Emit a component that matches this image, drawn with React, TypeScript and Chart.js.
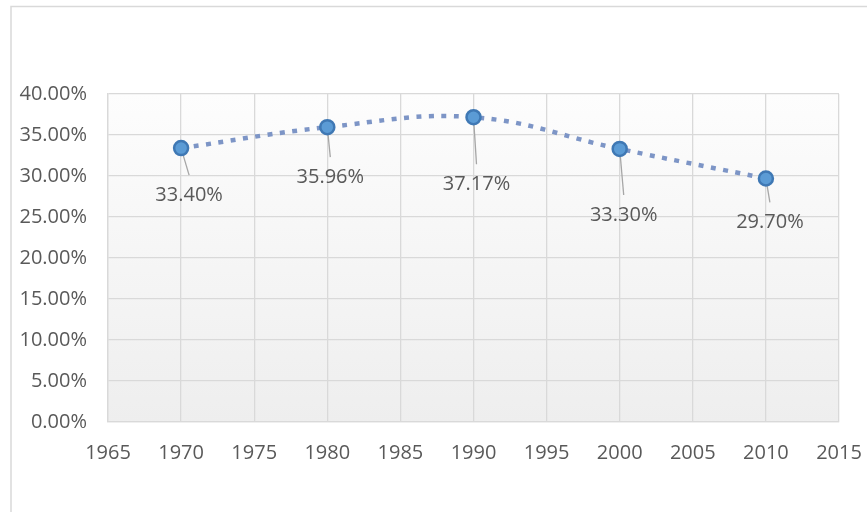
import React, { useEffect, useRef } from 'react';
import { Chart, registerables } from 'chart.js';

Chart.register(...registerables);

const years = [1970, 1980, 1990, 2000, 2010];
const shares = [33.4, 35.96, 37.17, 33.3, 29.7];
const valueLabels = ['33.40%', '35.96%', '37.17%', '33.30%', '29.70%'];
const xTicks = [1965, 1970, 1975, 1980, 1985, 1990, 1995, 2000, 2005, 2010, 2015];
const yTicks = [0, 5, 10, 15, 20, 25, 30, 35, 40];

// label placement (pixel offsets from each point)
const labelOffsets = [
  [8, 47],
  [3, 50],
  [3, 67],
  [4, 66],
  [4, 44],
];

const FONT = '"Open Sans", sans-serif';
const TEXT = '#595959';
const GRID = '#d9d9d9';

export default function App() {
  const ref = useRef<HTMLCanvasElement>(null);

  useEffect(() => {
    if (!ref.current) return;

    const bgPlugin = {
      id: 'bgPlugin',
      beforeDraw(chart: any) {
        const { ctx, chartArea: a } = chart;
        ctx.save();
        ctx.fillStyle = '#ffffff';
        ctx.fillRect(0, 0, chart.width, chart.height);
        ctx.strokeStyle = GRID;
        ctx.lineWidth = 1.5;
        ctx.beginPath();
        ctx.moveTo(11, chart.height);
        ctx.lineTo(11, 6.5);
        ctx.lineTo(chart.width, 6.5);
        ctx.stroke();
        const g = ctx.createLinearGradient(0, a.top, 0, a.bottom);
        g.addColorStop(0, '#fdfdfd');
        g.addColorStop(1, '#eeeeee');
        ctx.fillStyle = g;
        ctx.fillRect(a.left, a.top, a.right - a.left, a.bottom - a.top);
        ctx.restore();
      },
    };

    const labelPlugin = {
      id: 'labelPlugin',
      beforeDatasetsDraw(chart: any) {
        const { ctx } = chart;
        const meta = chart.getDatasetMeta(0);
        ctx.save();
        ctx.strokeStyle = '#a6a6a6';
        ctx.lineWidth = 1.3;
        meta.data.forEach((pt: any, i: number) => {
          const [dx, dy] = labelOffsets[i];
          const lx = pt.x + dx;
          const ly = pt.y + dy;
          ctx.beginPath();
          ctx.moveTo(pt.x, pt.y);
          ctx.lineTo(lx, ly - 20);
          ctx.stroke();
        });
        ctx.restore();
      },
      afterDatasetsDraw(chart: any) {
        const { ctx } = chart;
        const meta = chart.getDatasetMeta(0);
        ctx.save();
        ctx.fillStyle = TEXT;
        ctx.font = `20px ${FONT}`;
        ctx.textAlign = 'center';
        ctx.textBaseline = 'middle';
        meta.data.forEach((pt: any, i: number) => {
          const [dx, dy] = labelOffsets[i];
          ctx.fillText(valueLabels[i], pt.x + dx, pt.y + dy);
        });
        ctx.restore();
      },
    };

    const chart = new Chart(ref.current, {
      type: 'line',
      data: {
        datasets: [
          {
            data: years.map((x, i) => ({ x, y: shares[i] })),
            borderColor: '#7d95c6',
            borderWidth: 4.5,
            borderDash: [5, 7.5],
            borderCapStyle: 'butt',
            tension: 0.4,
            fill: false,
            pointRadius: 7,
            pointBackgroundColor: '#5b9bd5',
            pointBorderColor: '#3f78b4',
            pointBorderWidth: 2.5,
          },
        ],
      },
      options: {
        animation: false,
        responsive: false,
        maintainAspectRatio: false,
        layout: { padding: { top: 94, right: 28, bottom: 30, left: 0 } },
        plugins: {
          legend: { display: false },
          tooltip: { enabled: false },
        },
        scales: {
          x: {
            type: 'linear',
            min: 1965,
            max: 2015,
            afterBuildTicks: (s: any) => {
              s.ticks = xTicks.map((v) => ({ value: v }));
            },
            afterFit: (s: any) => {
              s.height = 60;
              s.paddingLeft = 0;
              s.paddingRight = 0;
            },
            grid: { color: GRID, lineWidth: 1.3, drawTicks: false },
            border: { color: GRID, width: 1.3 },
            ticks: {
              padding: 19,
              color: TEXT,
              font: { family: FONT, size: 20 },
              maxRotation: 0,
              autoSkip: false,
              callback: (v: any) => String(v),
            },
          },
          y: {
            type: 'linear',
            min: 0,
            max: 40,
            afterBuildTicks: (s: any) => {
              s.ticks = yTicks.map((v) => ({ value: v }));
            },
            afterFit: (s: any) => {
              s.width = 108;
              s.paddingTop = 0;
              s.paddingBottom = 0;
            },
            grid: { color: GRID, lineWidth: 1.3, drawTicks: false },
            border: { color: GRID, width: 1.3 },
            ticks: {
              padding: 21,
              color: TEXT,
              font: { family: FONT, size: 20 },
              callback: (v: any) => Number(v).toFixed(2) + '%',
            },
          },
        },
      },
      plugins: [bgPlugin, labelPlugin],
    });

    return () => chart.destroy();
  }, []);

  return (
    <div style={{ position: 'absolute', left: 0, top: 0, width: 867, height: 512 }}>
      <canvas ref={ref} width={867} height={512} style={{ display: 'block' }} />
    </div>
  );
}
